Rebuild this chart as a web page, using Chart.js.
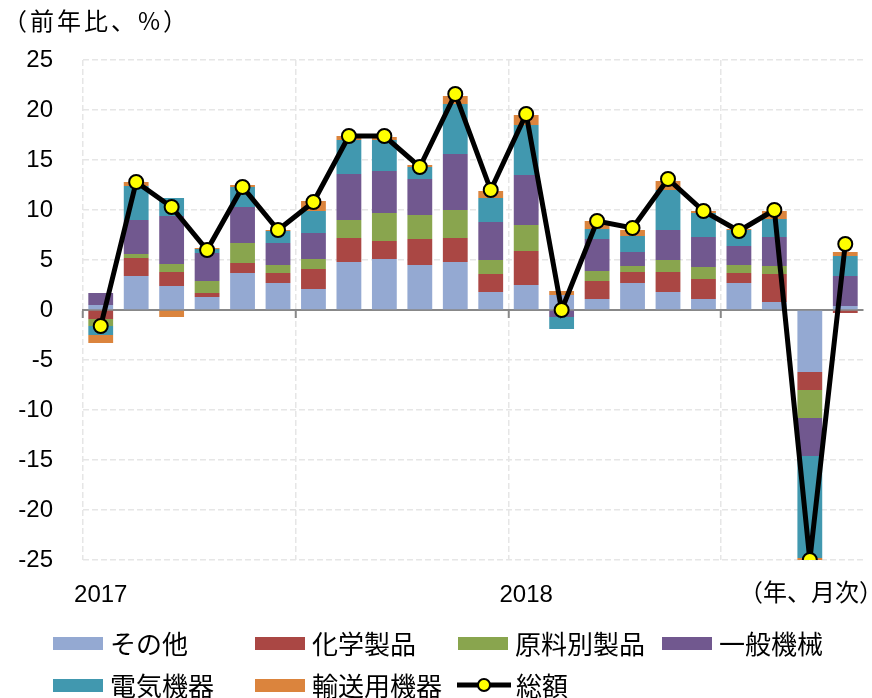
<!DOCTYPE html>
<html>
<head>
<meta charset="utf-8">
<script src="https://cdn.jsdelivr.net/npm/chart.js@4/dist/chart.umd.min.js"></script>
<style>
  body { margin: 0; background: #fff; }
  #wrap { position: relative; width: 872px; height: 698px; }
  .txt { position: absolute; font-family: "Noto Sans CJK JP", sans-serif; color: #000; white-space: nowrap; }
  .leg { position: absolute; font-family: "Noto Sans CJK JP", sans-serif; font-size: 26px; line-height: 30px; display: flex; align-items: center; }
  .box { width: 50px; height: 13px; margin-right: 7px; }
</style>
</head>
<body>
<div id="wrap">
  <canvas id="chart" width="872" height="698"></canvas>
  <div class="txt" style="left:3px; top:2px; font-size:24px; letter-spacing:3px;">（前年比、%）</div>
  <div class="txt" style="left:739px; top:573px; font-size:24px;">（年、月次）</div>
  <div id="legend"></div>
</div>
<script>
// 月 (2017年1月〜2018年10月)
const categories = [
  '2017-01', '2017-02', '2017-03', '2017-04', '2017-05', '2017-06',
  '2017-07', '2017-08', '2017-09', '2017-10', '2017-11', '2017-12',
  '2018-01', '2018-02', '2018-03', '2018-04', '2018-05', '2018-06',
  '2018-07', '2018-08', '2018-09', '2018-10'
];
// x軸に出す年ラベル
const yearTicks = { '2017-01': '2017', '2018-01': '2018' };

// 寄与度 (前年比、%)
const sonota  = [0.5, 3.4, 2.4, 1.3, 3.7, 2.7, 2.1, 4.8, 5.1, 4.5, 4.8, 1.8, 2.5, 1.5, 1.1, 2.7, 1.8, 1.1, 2.7, 0.8, -6.2, 0.4];
const kagaku  = [-0.9, 1.8, 1.4, 0.4, 1.0, 1.0, 2.0, 2.4, 1.8, 2.6, 2.4, 1.8, 3.4, 0, 1.8, 1.1, 2.0, 2.0, 1.0, 2.8, -1.8, -0.3];
const genryo  = [-0.7, 0.4, 0.8, 1.2, 2.0, 0.8, 1.0, 1.8, 2.8, 2.4, 2.8, 1.4, 2.6, 0, 1.0, 0.6, 1.2, 1.2, 0.8, 0.8, -2.8, 0];
const ippan   = [1.2, 3.4, 4.8, 2.8, 3.6, 2.2, 2.6, 4.6, 4.2, 3.6, 5.6, 3.8, 5.0, -0.7, 3.2, 1.4, 3.0, 3.0, 1.9, 2.9, -3.8, 3.0];
const denki   = [-0.9, 3.4, 1.8, 0.4, 2.0, 1.2, 2.2, 3.4, 3.1, 1.2, 5.0, 2.4, 5.0, -1.2, 1.0, 1.6, 4.0, 2.4, 1.6, 1.8, -10.2, 2.0];
const yuso    = [-0.8, 0.4, -0.7, 0.1, 0.2, 0.1, 1.0, 0.4, 0.3, 0.2, 0.8, 0.7, 1.0, 0.4, 0.8, 0.6, 0.9, 0.2, 0.1, 0.8, -0.3, 0.4];
const total   = [-1.6, 12.8, 10.3, 6.0, 12.3, 8.0, 10.8, 17.4, 17.4, 14.3, 21.6, 12.0, 19.6, 0.0, 8.9, 8.2, 13.1, 9.9, 7.9, 10.0, -25.0, 6.6];

const seriesNames = ['その他', '化学製品', '原料別製品', '一般機械', '電気機器', '輸送用機器'];
const seriesData = [sonota, kagaku, genryo, ippan, denki, yuso];
const seriesColors = ['#94a9d2', '#aa4744', '#89a54e', '#71588f', '#4198af', '#db843d'];
const totalName = '総額';

const GRID = '#e6e6e6';
const numFont = { family: '"Liberation Sans", Arial, sans-serif', size: 24 };

const barSets = seriesNames.map((name, i) => ({
  type: 'bar',
  label: name,
  data: seriesData[i],
  backgroundColor: seriesColors[i],
  barPercentage: 0.7,
  categoryPercentage: 1.0,
  order: 1
}));

new Chart(document.getElementById('chart'), {
  data: {
    labels: categories,
    datasets: [
      {
        type: 'line',
        label: totalName,
        data: total,
        borderColor: '#000',
        borderWidth: 5,
        pointRadius: 7,
        pointBackgroundColor: '#ffff00',
        pointBorderColor: '#000',
        pointBorderWidth: 2,
        tension: 0,
        order: 0
      },
      ...barSets
    ]
  },
  options: {
    responsive: false,
    animation: false,
    devicePixelRatio: 1,
    layout: { padding: { top: 60, right: 3, bottom: 84, left: 0 } },
    plugins: { legend: { display: false }, tooltip: { enabled: false } },
    scales: {
      // 0 の位置の軸線と半年ごとの縦線
      x: {
        type: 'category',
        stacked: true,
        position: { y: 0 },
        ticks: { display: false },
        grid: {
          offset: true,
          drawTicks: true,
          tickLength: 7,
          lineWidth: 1.5,
          color: ctx => (ctx.index % 6 === 0 ? GRID : 'transparent'),
          tickColor: ctx => (ctx.index % 6 === 0 ? '#888' : 'transparent'),
          tickWidth: 2
        },
        border: { display: true, color: '#888', width: 2, dash: [6, 3] }
      },
      // 下側の年ラベル
      x2: {
        type: 'category',
        position: 'bottom',
        offset: true,
        grid: { display: true, drawOnChartArea: false, drawTicks: true, tickLength: 20, tickColor: 'transparent' },
        border: { display: false },
        ticks: {
          autoSkip: false,
          maxRotation: 0,
          padding: 1,
          color: '#000',
          font: numFont,
          callback: function (v, i) { return yearTicks[categories[i]] || ''; }
        },
        afterFit: s => { s.height = 54; }
      },
      y: {
        stacked: true,
        min: -25,
        max: 25,
        ticks: { stepSize: 5, color: '#000', font: numFont, padding: 30 },
        grid: { color: GRID, lineWidth: 1.5, drawTicks: false },
        border: { display: false, dash: [6, 3] },
        afterFit: s => { s.width = 83; }
      }
    }
  }
});

// 凡例
const legendPos = [[53, 628], [255, 628], [458, 628], [662, 628], [53, 670], [255, 670]];
const legend = document.getElementById('legend');
seriesNames.forEach((name, i) => {
  const el = document.createElement('div');
  el.className = 'leg';
  el.style.left = legendPos[i][0] + 'px';
  el.style.top = legendPos[i][1] + 'px';
  el.innerHTML = `<span class="box" style="background:${seriesColors[i]}"></span>${name}`;
  legend.appendChild(el);
});
const lineLeg = document.createElement('div');
lineLeg.className = 'leg';
lineLeg.style.left = '455px';
lineLeg.style.top = '670px';
lineLeg.innerHTML = `<svg width="58" height="20" style="margin-right:3px"><line x1="2" y1="10" x2="56" y2="10" stroke="#000" stroke-width="5"/><circle cx="29" cy="10" r="6" fill="#ffff00" stroke="#000" stroke-width="2"/></svg>${totalName}`;
legend.appendChild(lineLeg);
</script>
</body>
</html>
